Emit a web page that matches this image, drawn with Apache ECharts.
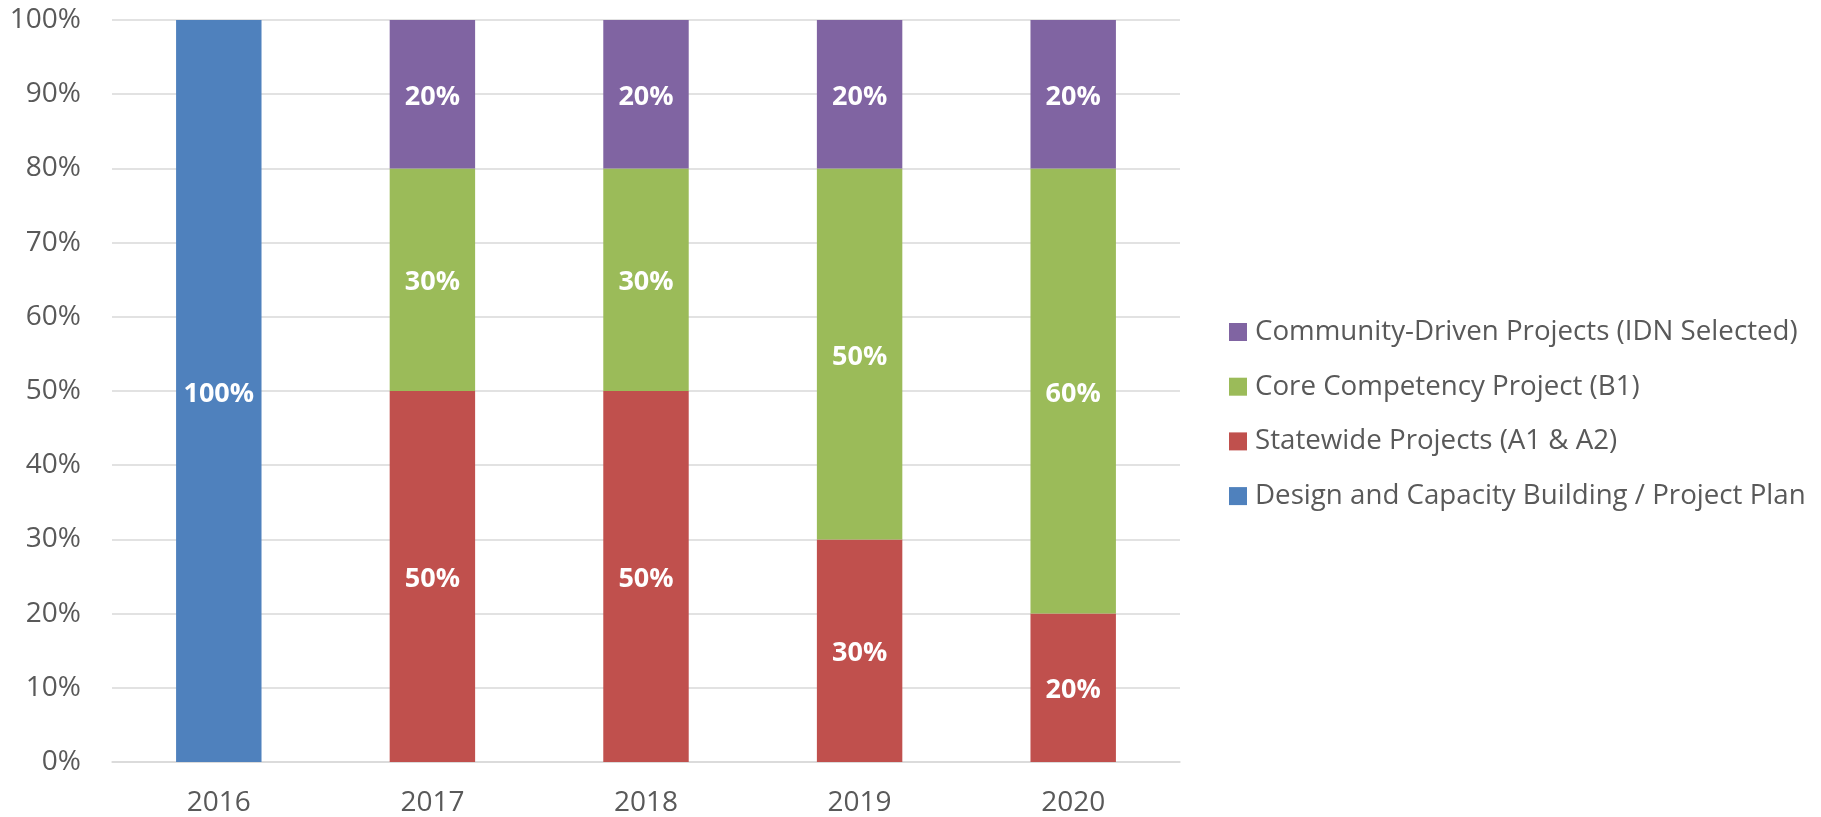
<!DOCTYPE html>
<html>
<head>
<meta charset="utf-8">
<script src="https://cdn.jsdelivr.net/npm/echarts@6/dist/echarts.min.js"></script>
<style>html,body{margin:0;padding:0;background:#fff}#c{width:1821px;height:817px}</style>
</head>
<body>
<div id="c"></div>
<script>
var categories = ['2016', '2017', '2018', '2019', '2020'];
var designCapacity = [100, null, null, null, null];
var statewide = [null, 50, 50, 30, 20];
var coreCompetency = [null, 30, 30, 50, 60];
var communityDriven = [null, 20, 20, 20, 20];
var yTicks = [0, 10, 20, 30, 40, 50, 60, 70, 80, 90, 100];

var FONT = '"Open Sans", "Noto Sans", sans-serif';
var chart = echarts.init(document.getElementById('c'));
function s(name, data, color) {
  return {
    name: name, type: 'bar', stack: 'total', data: data, barWidth: '40%',
    itemStyle: {color: color},
    label: {show: true, position: 'inside', offset: [0, 3], formatter: '{c}%', color: '#fff',
      fontFamily: FONT, fontWeight: 'bold', fontSize: 27},
    emphasis: {disabled: true}
  };
}
chart.setOption({
  animation: false,
  grid: {left: 112, right: 641, top: 20, bottom: 53.5, containLabel: false},
  xAxis: {
    type: 'category', data: categories,
    axisLine: {show: true, lineStyle: {color: '#d9d9d9', width: 1.5}},
    axisTick: {show: false},
    axisLabel: {color: '#595959', fontFamily: FONT, fontSize: 28, margin: 27}
  },
  yAxis: {
    type: 'value', min: yTicks[0], max: yTicks[yTicks.length - 1], interval: 10,
    axisLine: {show: false}, axisTick: {show: false},
    axisLabel: {color: '#595959', fontFamily: FONT, fontSize: 28, margin: 31, formatter: '{value}%', padding: [5, 0, 0, 0]},
    splitLine: {lineStyle: {color: '#d9d9d9', width: 1.5}}
  },
  legend: {
    orient: 'vertical', left: 1224, top: 313, itemWidth: 18, itemHeight: 18, itemGap: 26.7,
    icon: 'rect',
    data: ['Community-Driven Projects (IDN Selected)', 'Core Competency Project (B1)', 'Statewide Projects (A1 & A2)', 'Design and Capacity Building / Project Plan'],
    textStyle: {color: '#595959', fontFamily: FONT, fontSize: 27.7, padding: [0, 0, 0, 3]}
  },
  series: [
    s('Design and Capacity Building / Project Plan', designCapacity, '#4F81BD'),
    s('Statewide Projects (A1 & A2)', statewide, '#C0504D'),
    s('Core Competency Project (B1)', coreCompetency, '#9BBB59'),
    s('Community-Driven Projects (IDN Selected)', communityDriven, '#8064A2')
  ]
});
</script>
</body>
</html>
